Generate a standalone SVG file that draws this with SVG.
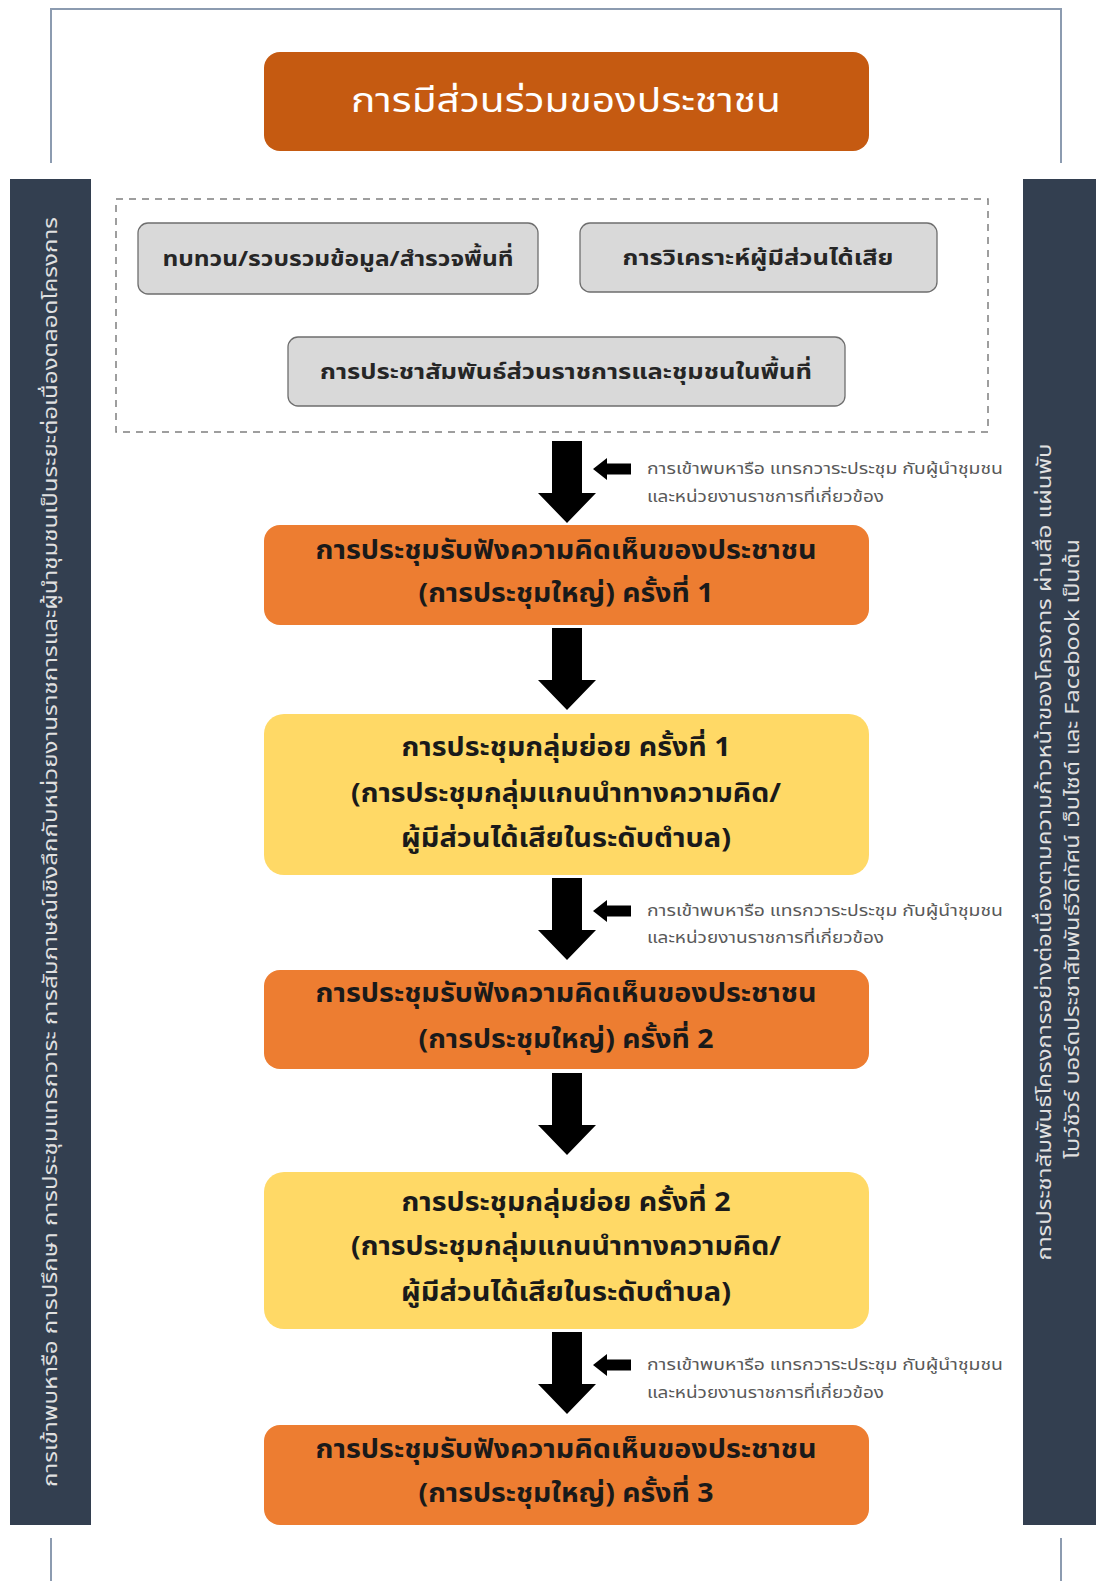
<svg xmlns="http://www.w3.org/2000/svg" width="1096" height="1581" viewBox="0 0 1096 1581">
<style>
text{font-family:"Noto Sans Thai","Noto Sans","DejaVu Sans",sans-serif;text-anchor:middle}
.frame{fill:none;stroke:#8C9BB0;stroke-width:2}
.bar{fill:#333F50}
.bartxt{fill:#E0E0E0;font-size:19px}
.title{fill:#C55A11}
.orange{fill:#ED7D31}
.yellow{fill:#FFD966}
.gray{fill:#D9D9D9;stroke:#6E6E6E;stroke-width:1.3}
.btxt{fill:#1a1a1a;font-size:26px;font-weight:bold}
.gtxt{fill:#262626;font-size:22px;font-weight:bold}
.arrow{fill:#000}
.note{fill:#595959;font-size:15px;text-anchor:start}
</style>
<rect width="1096" height="1581" fill="#FFFFFF"/>
<g id="frame">
<path class="frame" d="M51,163 V9 H1061 V163"/>
<path class="frame" d="M51,1538 V1581 M1061,1538 V1581"/>
</g>
<g id="left-bar">
<rect class="bar" x="10" y="179" width="81" height="1346"/>
<text class="bartxt" transform="translate(57,852) rotate(-90)" textLength="1270" lengthAdjust="spacingAndGlyphs">การเข้าพบหารือ การปรึกษา การประชุมแทรกวาระ การสัมภาษณ์เชิงลึกกับหน่วยงานราชการและผู้นำชุมชนเป็นระยะต่อเนื่องตลอดโครงการ</text>
</g>
<g id="right-bar">
<rect class="bar" x="1023" y="179" width="73" height="1346"/>
<text class="bartxt" transform="translate(1051,852) rotate(-90)" textLength="817" lengthAdjust="spacingAndGlyphs">การประชาสัมพันธ์โครงการอย่างต่อเนื่องตามความก้าวหน้าของโครงการ ผ่านสื่อ แผ่นพับ</text>
<text class="bartxt" transform="translate(1079,849) rotate(-90)" textLength="620" lengthAdjust="spacingAndGlyphs">โบว์ชัวร์ บอร์ดประชาสัมพันธ์วีดิทัศน์ เว็บไซต์ และ Facebook เป็นต้น</text>
</g>
<g id="title">
<rect class="title" x="264" y="52" width="605" height="99" rx="16"/>
<text x="566" y="112" fill="#FFFFFF" font-size="34" textLength="430" lengthAdjust="spacingAndGlyphs">การมีส่วนร่วมของประชาชน</text>
</g>
<g id="prep-group">
<rect x="116" y="199" width="872" height="233" fill="none" stroke="#7F7F7F" stroke-width="1.5" stroke-dasharray="7,6"/>
</g>
<g id="review">
<rect class="gray" x="138" y="223" width="400" height="71" rx="10"/>
<text class="gtxt" x="338" y="266" textLength="351" lengthAdjust="spacingAndGlyphs">ทบทวน/รวบรวมข้อมูล/สำรวจพื้นที่</text>
</g>
<g id="stakeholder">
<rect class="gray" x="580" y="223" width="357" height="69" rx="10"/>
<text class="gtxt" x="758" y="265" textLength="271" lengthAdjust="spacingAndGlyphs">การวิเคราะห์ผู้มีส่วนได้เสีย</text>
</g>
<g id="pr-local">
<rect class="gray" x="288" y="337" width="557" height="69" rx="10"/>
<text class="gtxt" x="566" y="379" textLength="492" lengthAdjust="spacingAndGlyphs">การประชาสัมพันธ์ส่วนราชการและชุมชนในพื้นที่</text>
</g>
<g id="meeting1">
<rect class="orange" x="264" y="525" width="605" height="100" rx="16"/>
<text class="btxt" x="566" y="559" textLength="501" lengthAdjust="spacingAndGlyphs">การประชุมรับฟังความคิดเห็นของประชาชน</text>
<text class="btxt" x="566" y="602" textLength="295" lengthAdjust="spacingAndGlyphs">(การประชุมใหญ่) ครั้งที่ 1</text>
</g>
<g id="focus1">
<rect class="yellow" x="264" y="714" width="605" height="161" rx="20"/>
<text class="btxt" x="566" y="756" textLength="329" lengthAdjust="spacingAndGlyphs">การประชุมกลุ่มย่อย ครั้งที่ 1</text>
<text class="btxt" x="566" y="802" textLength="430" lengthAdjust="spacingAndGlyphs">(การประชุมกลุ่มแกนนำทางความคิด/</text>
<text class="btxt" x="566" y="847" textLength="330" lengthAdjust="spacingAndGlyphs">ผู้มีส่วนได้เสียในระดับตำบล)</text>
</g>
<g id="meeting2">
<rect class="orange" x="264" y="970" width="605" height="99" rx="16"/>
<text class="btxt" x="566" y="1002" textLength="501" lengthAdjust="spacingAndGlyphs">การประชุมรับฟังความคิดเห็นของประชาชน</text>
<text class="btxt" x="566" y="1048" textLength="295" lengthAdjust="spacingAndGlyphs">(การประชุมใหญ่) ครั้งที่ 2</text>
</g>
<g id="focus2">
<rect class="yellow" x="264" y="1172" width="605" height="157" rx="20"/>
<text class="btxt" x="566" y="1211" textLength="329" lengthAdjust="spacingAndGlyphs">การประชุมกลุ่มย่อย ครั้งที่ 2</text>
<text class="btxt" x="566" y="1255" textLength="430" lengthAdjust="spacingAndGlyphs">(การประชุมกลุ่มแกนนำทางความคิด/</text>
<text class="btxt" x="566" y="1301" textLength="330" lengthAdjust="spacingAndGlyphs">ผู้มีส่วนได้เสียในระดับตำบล)</text>
</g>
<g id="meeting3">
<rect class="orange" x="264" y="1425" width="605" height="100" rx="16"/>
<text class="btxt" x="566" y="1458" textLength="501" lengthAdjust="spacingAndGlyphs">การประชุมรับฟังความคิดเห็นของประชาชน</text>
<text class="btxt" x="566" y="1502" textLength="295" lengthAdjust="spacingAndGlyphs">(การประชุมใหญ่) ครั้งที่ 3</text>
</g>
<g id="connectors">
<path class="arrow" d="M552,441 H582 V493 H596 L567,523 L538,493 H552 Z"/>
<path class="arrow" d="M552,628 H582 V680 H596 L567,710 L538,680 H552 Z"/>
<path class="arrow" d="M552,878 H582 V930 H596 L567,960 L538,930 H552 Z"/>
<path class="arrow" d="M552,1073 H582 V1125 H596 L567,1155 L538,1125 H552 Z"/>
<path class="arrow" d="M552,1332 H582 V1384 H596 L567,1414 L538,1384 H552 Z"/>
<path class="arrow" d="M631,463.5 V474.5 H607 V480 L593,469 L607,458 V463.5 Z"/>
<path class="arrow" d="M631,905.5 V916.5 H607 V922 L593,911 L607,900 V905.5 Z"/>
<path class="arrow" d="M631,1359.5 V1370.5 H607 V1376 L593,1365 L607,1354 V1359.5 Z"/>
</g>
<g id="notes">
<text class="note" x="647" y="474" textLength="356" lengthAdjust="spacingAndGlyphs">การเข้าพบหารือ แทรกวาระประชุม กับผู้นำชุมชน</text>
<text class="note" x="647" y="502" textLength="237" lengthAdjust="spacingAndGlyphs">และหน่วยงานราชการที่เกี่ยวข้อง</text>
<text class="note" x="647" y="916" textLength="356" lengthAdjust="spacingAndGlyphs">การเข้าพบหารือ แทรกวาระประชุม กับผู้นำชุมชน</text>
<text class="note" x="647" y="943" textLength="237" lengthAdjust="spacingAndGlyphs">และหน่วยงานราชการที่เกี่ยวข้อง</text>
<text class="note" x="647" y="1370" textLength="356" lengthAdjust="spacingAndGlyphs">การเข้าพบหารือ แทรกวาระประชุม กับผู้นำชุมชน</text>
<text class="note" x="647" y="1398" textLength="237" lengthAdjust="spacingAndGlyphs">และหน่วยงานราชการที่เกี่ยวข้อง</text>
</g>
</svg>
